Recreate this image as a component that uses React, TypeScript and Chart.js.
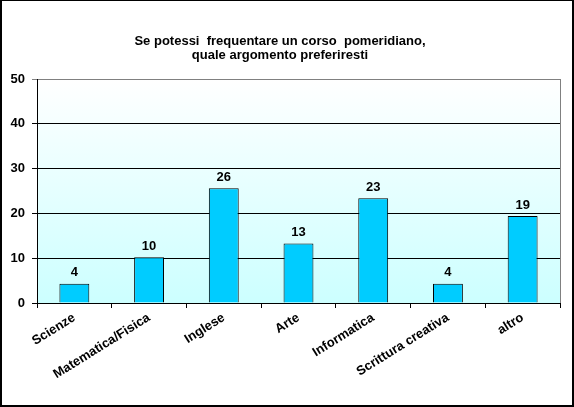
import { useEffect, useRef } from "react";
import { Chart, registerables } from "chart.js";

Chart.register(...registerables);

const categories = [
  "Scienze",
  "Matematica/Fisica",
  "Inglese",
  "Arte",
  "Informatica",
  "Scrittura creativa",
  "altro",
];
const percentages = [4.3, 10.2, 25.6, 13.3, 23.4, 4.3, 19.4];
const titleLines = ["Se potessi  frequentare un corso  pomeridiano,", "quale argomento preferiresti"];

const FONT = "'Liberation Sans', Arial, sans-serif";

const plotBackground = {
  id: "plotBackground",
  beforeDraw(chart: any) {
    const { ctx, chartArea } = chart;
    const { left, top, right, bottom } = chartArea;
    const grad = ctx.createLinearGradient(0, top, 0, bottom);
    grad.addColorStop(0, "#ffffff");
    grad.addColorStop(1, "#ccffff");
    ctx.save();
    ctx.fillStyle = grad;
    ctx.fillRect(left, top, right - left, bottom - top);
    ctx.restore();
  },
  afterDraw(chart: any) {
    const { ctx, chartArea } = chart;
    ctx.save();
    ctx.strokeStyle = "#808080";
    ctx.lineWidth = 1;
    ctx.beginPath();
    ctx.moveTo(Math.round(chartArea.right) + 0.5, chartArea.top);
    ctx.lineTo(Math.round(chartArea.right) + 0.5, chartArea.bottom);
    ctx.stroke();
    ctx.restore();
  },
};

const valueLabels = {
  id: "valueLabels",
  afterDatasetsDraw(chart: any) {
    const { ctx } = chart;
    const meta = chart.getDatasetMeta(0);
    ctx.save();
    ctx.font = `bold 13px ${FONT}`;
    ctx.fillStyle = "#000000";
    ctx.textAlign = "center";
    ctx.textBaseline = "alphabetic";
    meta.data.forEach((bar: any, i: number) => {
      ctx.fillText(String(Math.round(percentages[i])), bar.x, bar.y - 7.5);
    });
    ctx.restore();
  },
};

function BarChart() {
  const canvasRef = useRef<HTMLCanvasElement | null>(null);

  useEffect(() => {
    if (!canvasRef.current) return;

    const chart = new Chart(canvasRef.current, {
      type: "bar",
      data: {
        labels: categories,
        datasets: [
          {
            data: percentages,
            backgroundColor: "#00ccff",
            borderColor: "#000000",
            borderWidth: 1,
            categoryPercentage: 1,
            barPercentage: 0.4,
          },
        ],
      },
      options: {
        responsive: true,
        maintainAspectRatio: false,
        animation: false,
        layout: { padding: { left: 0, right: 14, top: 0, bottom: 0 } },
        plugins: {
          legend: { display: false },
          tooltip: { enabled: false },
          title: {
            display: true,
            text: titleLines,
            color: "#000000",
            font: { family: FONT, size: 13, weight: "bold", lineHeight: 1.1 },
            padding: { top: 33.8, bottom: 16.6 },
          },
        },
        scales: {
          x: {
            grid: {
              drawOnChartArea: false,
              drawTicks: true,
              tickLength: 5,
              color: "#000000",
            },
            border: { color: "#000000", width: 1 },
            ticks: {
              color: "#000000",
              font: { family: FONT, size: 13, weight: "bold" },
              minRotation: 32,
              maxRotation: 32,
              autoSkip: false,
              padding: 2,
            },
            afterFit(scale: any) {
              scale.height = 104;
            },
          },
          y: {
            min: 0,
            max: 50,
            grid: {
              color: (c: any) => (c.tick && c.tick.value === 50 ? "#808080" : "#000000"),
              tickLength: 5,
              lineWidth: 1,
            },
            border: { color: "#000000", width: 1 },
            ticks: {
              stepSize: 10,
              color: "#000000",
              padding: 7,
              font: { family: FONT, size: 13, weight: "bold" },
            },
            afterFit(scale: any) {
              scale.width = 37;
            },
          },
        },
      },
      plugins: [plotBackground, valueLabels],
    });

    return () => chart.destroy();
  }, []);

  return <canvas ref={canvasRef} />;
}

export default function App() {
  return (
    <div style={{ position: "absolute", left: 0, top: 0, width: 574, height: 407, background: "#ffffff" }}>
      <BarChart />
      <div
        style={{
          position: "absolute",
          left: 0,
          top: 0,
          width: 574,
          height: 407,
          boxSizing: "border-box",
          borderStyle: "solid",
          borderColor: "#000000",
          borderWidth: "1px 2px 2px 2px",
          pointerEvents: "none",
        }}
      />
    </div>
  );
}
